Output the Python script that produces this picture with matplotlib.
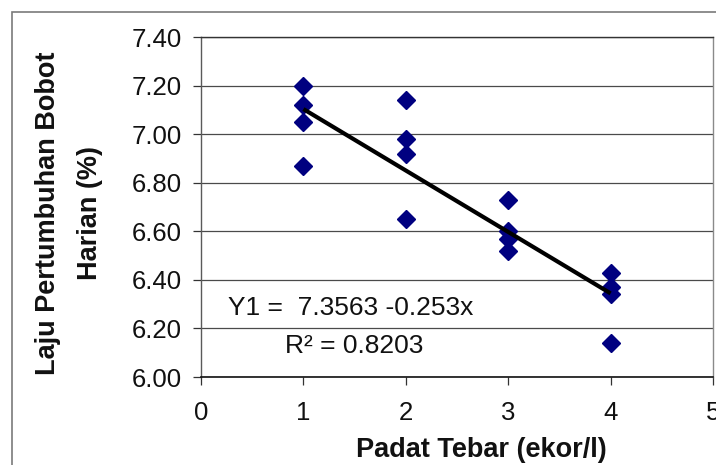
import matplotlib
matplotlib.use("Agg")
import matplotlib.pyplot as plt
from matplotlib.patches import Rectangle
import numpy as np

# Data
density = [1, 1, 1, 1, 2, 2, 2, 2, 3, 3, 3, 3, 4, 4, 4, 4]
growth = [7.20, 7.12, 7.05, 6.87,
          7.14, 6.98, 6.92, 6.65,
          6.73, 6.60, 6.57, 6.52,
          6.43, 6.37, 6.34, 6.14]
intercept = 7.3563
slope = -0.253
r2 = 0.8203
fit_x = [1, 4]
x_ticks = [0, 1, 2, 3, 4, 5]
y_ticks = [6.00, 6.20, 6.40, 6.60, 6.80, 7.00, 7.20, 7.40]

plt.rcParams['font.family'] = ['Liberation Sans', 'DejaVu Sans']

W, H = 716, 465
fig = plt.figure(figsize=(W / 100, H / 100), dpi=100)
fig.patch.set_facecolor('white')

# outer chart border (top/left visible)
fig.add_artist(Rectangle((12 / W, -0.1), 1.2, 1 - 12 / H + 0.1,
                         transform=fig.transFigure, fill=False,
                         edgecolor='#7a7a7a', linewidth=1.2))

ax = fig.add_axes([201 / W, 1 - 377 / H, 512 / W, 340 / H])
ax.set_xlim(0, 5)
ax.set_ylim(6.0, 7.4)

ax.set_yticks(y_ticks)
ax.set_yticklabels([f"{v:.2f}" for v in y_ticks])
ax.set_xticks(x_ticks)
ax.set_xticklabels([str(v) for v in x_ticks])

ax.yaxis.grid(True, color='#4a4a4a', linewidth=0.9)
ax.set_axisbelow(True)

ax.spines['left'].set_color('#5a5a5a')
ax.spines['left'].set_linewidth(1.0)
ax.spines['bottom'].set_color('#111111')
ax.spines['bottom'].set_linewidth(1.2)
ax.spines['top'].set_color('#333333')
ax.spines['top'].set_linewidth(1.0)
ax.spines['right'].set_color('#8a8a8a')
ax.spines['right'].set_linewidth(1.0)

ax.tick_params(axis='both', direction='out', length=6, width=0.9,
               colors='#333333', labelcolor='#111111', labelsize=18.5)
ax.tick_params(axis='y', pad=8)
ax.tick_params(axis='x', pad=11)

ax.plot(density, growth, linestyle='none', marker='D', markersize=9,
        color='#000080', markeredgecolor='#000080', zorder=3)

fx = np.array(fit_x, dtype=float)
ax.plot(fx, intercept + slope * fx, color='black', linewidth=3, zorder=4,
        solid_capstyle='butt')

fig.text(228 / W, 1 - 315 / H, f"Y1 =  {intercept:.4f} {slope:.3f}x",
         fontsize=19, ha='left', va='baseline', color='#111111')
fig.text(285 / W, 1 - 353 / H, f"R² = {r2:.4f}",
         fontsize=19, ha='left', va='baseline', color='#111111')

fig.text(481 / W, 1 - 457 / H, "Padat Tebar (ekor/l)", fontsize=19.5,
         fontweight='bold', ha='center', va='baseline', color='#111111')
fig.text(48 / W, 1 - 213 / H, "Laju Pertumbuhan Bobot", fontsize=19.5,
         fontweight='bold', ha='center', va='center', rotation=90,
         color='#111111')
fig.text(90 / W, 1 - 213 / H, "Harian (%)", fontsize=19.5,
         fontweight='bold', ha='center', va='center', rotation=90,
         color='#111111')

fig.savefig('out.png', dpi=100)
